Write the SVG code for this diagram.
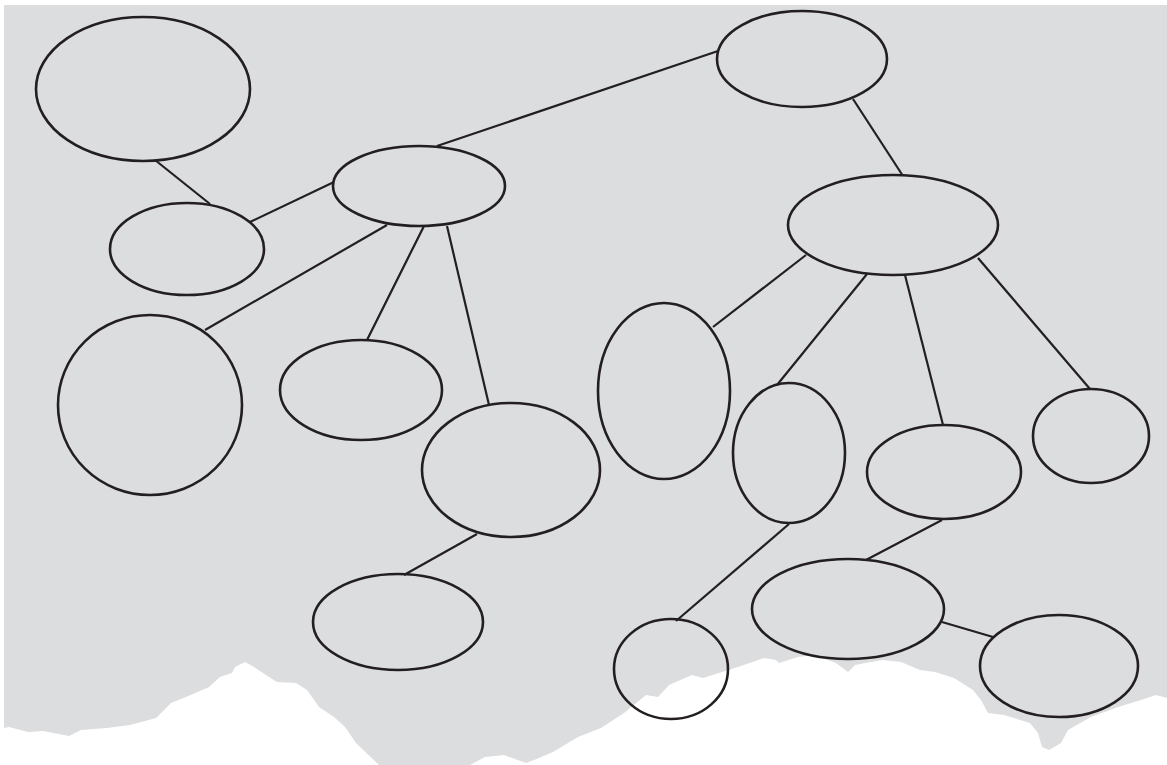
<svg xmlns="http://www.w3.org/2000/svg" width="1167" height="765" viewBox="0 0 1167 765">
<style>
.n{fill:none;stroke:#231f20;stroke-width:2.6}
.c line{stroke:#231f20;stroke-width:2.2}
</style>
<rect width="1167" height="765" fill="#ffffff"/>
<path id="paper" fill="#dcdddf" d="M4,5 H1167 V698 L1156,695 L1141,700 L1118,707 L1091,717 L1068,730 L1061,743 L1049,750 L1042,747 L1038,733 L1030,723 L1004,715 L988,713 L981,700 L973,690 L954,678 L935,672 L920,670 L901,662 L882,660 L855,665 L848,672 L836,663 L814,655 L798,657 L779,663 L776,660 L764,658 L738,667 L722,672 L703,678 L692,675 L669,685 L658,697 L646,695 L624,713 L601,728 L578,737 L553,752 L534,760 L526,763 L504,755 L485,757 L470,765 L379,765 L356,743 L345,727 L334,717 L319,707 L307,690 L296,683 L277,682 L269,677 L254,667 L245,662 L235,667 L232,673 L220,677 L209,687 L186,697 L171,703 L156,718 L130,725 L107,728 L81,730 L69,736 L43,731 L28,732 L9,727 L4,728 Z"/>
<g class="c" id="connectors">
<line x1="155" y1="160" x2="210" y2="204"/>
<line x1="250" y1="222" x2="334" y2="182"/>
<line x1="437" y1="146" x2="718" y2="51"/>
<line x1="387" y1="225" x2="205" y2="330"/>
<line x1="424" y1="226" x2="367" y2="340"/>
<line x1="447" y1="226" x2="489" y2="405"/>
<line x1="477" y1="534" x2="404" y2="575"/>
<line x1="853" y1="99" x2="903" y2="176"/>
<line x1="806" y1="255" x2="713" y2="327"/>
<line x1="867" y1="274" x2="777" y2="385"/>
<line x1="905" y1="275" x2="943" y2="425"/>
<line x1="978" y1="258" x2="1090" y2="389"/>
<line x1="789" y1="524" x2="676" y2="621"/>
<line x1="942" y1="520" x2="866" y2="560"/>
<line x1="942" y1="622" x2="993" y2="637"/>
</g>
<g id="n1"><ellipse class="n" cx="143" cy="89" rx="107" ry="72"/></g>
<g id="n2"><ellipse class="n" cx="802" cy="59" rx="85" ry="48"/></g>
<g id="n3"><ellipse class="n" cx="419" cy="186" rx="86" ry="40"/></g>
<g id="n4"><ellipse class="n" cx="187" cy="249" rx="77" ry="46"/></g>
<g id="n5"><ellipse class="n" cx="150" cy="405" rx="92" ry="90"/></g>
<g id="n6"><ellipse class="n" cx="361" cy="390" rx="81" ry="50"/></g>
<g id="n7"><ellipse class="n" cx="511" cy="470" rx="89" ry="67"/></g>
<g id="n8"><ellipse class="n" cx="398" cy="622" rx="85" ry="48"/></g>
<g id="n9"><ellipse class="n" cx="893" cy="225" rx="105" ry="50"/></g>
<g id="n10"><ellipse class="n" cx="664" cy="391" rx="66" ry="88"/></g>
<g id="n11"><ellipse class="n" cx="789" cy="453" rx="56" ry="70"/></g>
<g id="n12"><ellipse class="n" cx="944" cy="472" rx="77" ry="47"/></g>
<g id="n13"><ellipse class="n" cx="1091" cy="436" rx="58" ry="47"/></g>
<g id="n14"><ellipse class="n" cx="848" cy="609" rx="96" ry="50"/></g>
<g id="n15"><ellipse class="n" cx="1059" cy="666" rx="79" ry="51"/></g>
<g id="n16"><ellipse class="n" cx="671" cy="669" rx="57" ry="50"/></g>
</svg>
